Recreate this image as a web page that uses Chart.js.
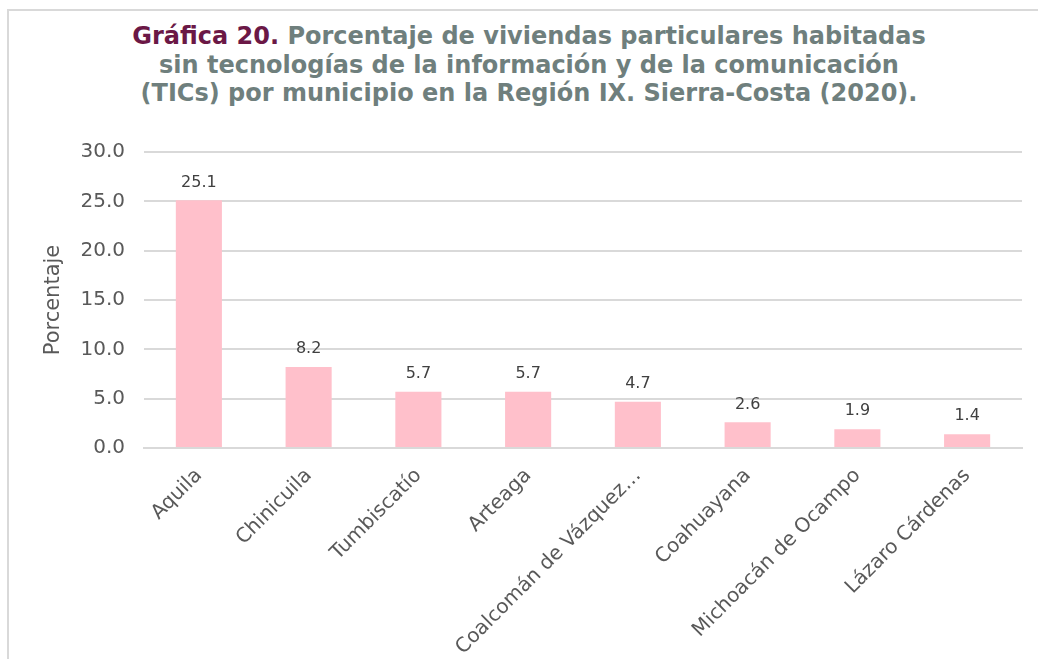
<!doctype html>
<html>
  <head>
    <meta charset="utf-8">
    <title>Gráfica 20</title>
    <script src="https://cdn.jsdelivr.net/npm/chart.js@4.4.1/dist/chart.umd.min.js"></script>
    <style>
        * { margin: 0; padding: 0; box-sizing: border-box; }
        body { width: 1038px; height: 659px; overflow: hidden; background: #fff; position: relative; }
        #frame { position: absolute; left: 7px; top: 9px; width: 1100px; height: 700px;
                 border-top: 2px solid #d9d9d9; border-left: 2px solid #d9d9d9; }
        #title { position: absolute; left: 20px; top: 22px; width: 1018px; text-align: center;
                 font: 700 24px "DejaVu Sans", sans-serif; line-height: 28.5px; color: #6f7f7d; }
        #title span { color: #6b1846; }
        #myCanvas { position: absolute; left: 0; top: 0; }
    </style>
  </head>
  <body>
    <div id="frame"></div>
    <div id="title"><span>Gráfica 20.</span> Porcentaje de viviendas particulares habitadas<br>sin tecnologías de la información y de la comunicación<br>(TICs) por municipio en la Región IX. Sierra-Costa (2020).</div>
    <canvas id="myCanvas" width="1038" height="659"></canvas>

    <script>
    // datos
    const municipios = ["Aquila", "Chinicuila", "Tumbiscatío", "Arteaga", "Coalcomán de Vázquez Pallares",
                        "Coahuayana", "Michoacán de Ocampo", "Lázaro Cárdenas"];
    const porcentajes = [25.1, 8.2, 5.7, 5.7, 4.7, 2.6, 1.9, 1.4];
    const yTicks = [0, 5, 10, 15, 20, 25, 30];

    // etiquetas encima de las barras
    const valueLabels = {
        id: 'valueLabels',
        afterDatasetsDraw(chart) {
            const ctx = chart.ctx;
            ctx.save();
            ctx.font = '16px "DejaVu Sans", sans-serif';
            ctx.fillStyle = '#404040';
            ctx.textAlign = 'center';
            ctx.textBaseline = 'middle';
            chart.getDatasetMeta(0).data.forEach((bar, i) => {
                ctx.fillText(porcentajes[i].toFixed(1), bar.x, bar.y - 18);
            });
            ctx.restore();
        }
    };

    var ctx = document.getElementById("myCanvas").getContext('2d');
    var myChart = new Chart(ctx, {
        type: 'bar',
        data: {
            labels: municipios,
            datasets: [{
                label: "Porcentaje",
                backgroundColor: '#ffc0cb',
                data: porcentajes,
                barPercentage: 0.42,
                categoryPercentage: 1
            }]
        },
        options: {
            responsive: false,
            animation: false,
            layout: { padding: { top: 152, right: 16, left: 0, bottom: 0 } },
            plugins: { legend: { display: false }, tooltip: { enabled: false } },
            scales: {
                x: {
                    grid: { display: false },
                    border: { color: '#d9d9d9', width: 2 },
                    ticks: {
                        autoSkip: false, maxRotation: 45, minRotation: 45, padding: 8,
                        color: '#595959', font: { family: 'DejaVu Sans', size: 20 },
                        callback: function(v, i) {
                            const s = municipios[i];
                            return s.length > 21 ? s.slice(0, 20) + '…' : s;
                        }
                    },
                    afterFit: function(scale) { scale.height = 659 - 448; }
                },
                y: {
                    min: 0, max: 30,
                    afterBuildTicks: function(scale) { scale.ticks = yTicks.map(v => ({ value: v })); },
                    grid: { color: '#d9d9d9', lineWidth: 2, drawTicks: false },
                    border: { display: false },
                    ticks: {
                        padding: 19, color: '#595959', font: { family: 'DejaVu Sans', size: 20 },
                        callback: v => v.toFixed(1)
                    },
                    title: {
                        display: true, text: 'Porcentaje', color: '#595959',
                        font: { family: 'DejaVu Sans', size: 21 }, padding: { top: 41, bottom: 0 }
                    },
                    afterFit: function(scale) { scale.width = 144; }
                }
            }
        },
        plugins: [valueLabels]
    });
    </script>
  </body>
</html>
